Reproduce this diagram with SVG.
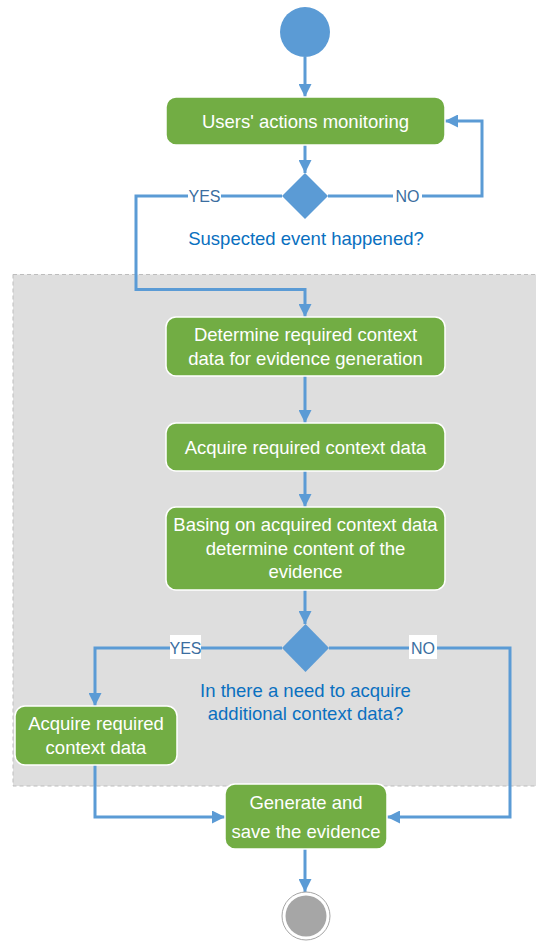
<svg xmlns="http://www.w3.org/2000/svg" width="536" height="941" viewBox="0 0 536 941">
<style>
.box{fill:#72AD44;stroke:#FFFFFF;stroke-width:1.5}
.bt{font-family:"Liberation Sans",Arial,sans-serif;font-size:18.5px;fill:#FFFFFF;text-anchor:middle}
.q{font-family:"Liberation Sans",Arial,sans-serif;font-size:18.5px;fill:#0A70C0;text-anchor:middle}
.lbl{font-family:"Liberation Sans",Arial,sans-serif;font-size:16px;fill:#3B6EA0;text-anchor:middle}
.c{fill:none;stroke:#5B9BD5;stroke-width:3;marker-end:url(#ah)}
.dia{fill:#5B9BD5}
</style>
<defs>
<marker id="ah" viewBox="0 0 12 12" refX="12" refY="6" markerWidth="13" markerHeight="13" markerUnits="userSpaceOnUse" orient="auto">
<path d="M0,0 L12,6 L0,12 z" fill="#5B9BD5"/>
</marker>
</defs>
<rect id="region" x="13" y="274.5" width="530" height="511.5" fill="#DEDEDE" stroke="#BDBDBD" stroke-width="1" stroke-dasharray="4,3"/>
<g id="connectors">
<path class="c" d="M305,57 V97"/>
<path class="c" d="M305,145 V173"/>
<path class="c" d="M328,196 H482 V121 H445"/>
<path class="c" d="M282,196 H136 V289.5 H305 V317"/>
<path class="c" d="M305,376 V423"/>
<path class="c" d="M305,471 V507"/>
<path class="c" d="M305,590 V624"/>
<path class="c" d="M282,648 H95 V706"/>
<path class="c" d="M329,648 H510 V817 H387"/>
<path class="c" d="M95,765 V817 H225"/>
<path class="c" d="M305,849 V892"/>
<rect x="188" y="186" width="33" height="20" fill="#FFFFFF"/>
<text class="lbl" x="204.5" y="202">YES</text>
<rect x="393" y="186" width="29" height="20" fill="#FFFFFF"/>
<text class="lbl" x="407.5" y="202">NO</text>
<rect x="170" y="635" width="31" height="24" fill="#FFFFFF"/>
<text class="lbl" x="185.5" y="654">YES</text>
<rect x="409" y="635" width="28" height="24" fill="#FFFFFF"/>
<text class="lbl" x="423" y="654">NO</text>
</g>
<g id="start"><circle cx="305" cy="32" r="25" fill="#5B9BD5"/></g>
<g id="monitor">
<rect class="box" x="166" y="97" width="279" height="48" rx="10"/>
<text class="bt" x="305.5" y="127.5">Users' actions monitoring</text>
</g>
<g id="decision1">
<polygon class="dia" points="305,173 328,196 305,219 282,196"/>
<text class="q" x="306" y="244.5">Suspected event happened?</text>
</g>
<g id="determine">
<rect class="box" x="166" y="317" width="279" height="59" rx="10"/>
<text class="bt" x="305.5" y="341">Determine required context</text>
<text class="bt" x="305.5" y="365">data for evidence generation</text>
</g>
<g id="acquire1">
<rect class="box" x="166" y="423" width="279" height="48" rx="10"/>
<text class="bt" x="305.5" y="454">Acquire required context data</text>
</g>
<g id="basing">
<rect class="box" x="166" y="507" width="279" height="83" rx="10"/>
<text class="bt" x="305.5" y="531">Basing on acquired context data</text>
<text class="bt" x="305.5" y="554.5">determine content of the</text>
<text class="bt" x="305.5" y="578">evidence</text>
</g>
<g id="decision2">
<polygon class="dia" points="305.5,624 329,648 305.5,672 282,648"/>
<text class="q" x="305.5" y="697">In there a need to acquire</text>
<text class="q" x="305.5" y="720">additional context data?</text>
</g>
<g id="acquire2">
<rect class="box" x="15" y="706" width="162" height="59" rx="10"/>
<text class="bt" x="96" y="730">Acquire required</text>
<text class="bt" x="96" y="753.5">context data</text>
</g>
<g id="generate">
<rect class="box" x="225" y="784" width="162" height="65" rx="10"/>
<text class="bt" x="306" y="809">Generate and</text>
<text class="bt" x="306" y="838">save the evidence</text>
</g>
<g id="end">
<circle cx="306" cy="916" r="24" fill="#FFFFFF" stroke="#A6A6A6" stroke-width="1"/>
<circle cx="306" cy="916" r="20.5" fill="#A6A6A6"/>
</g>
</svg>
